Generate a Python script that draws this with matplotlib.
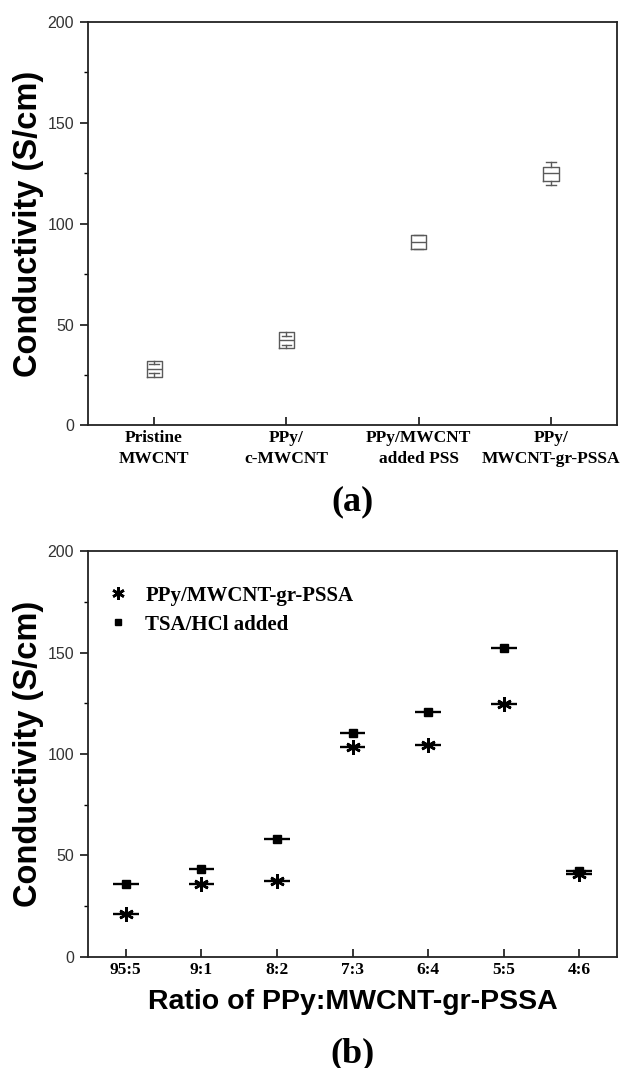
import numpy as np
import matplotlib
matplotlib.use("Agg")
import matplotlib.pyplot as plt
from matplotlib.ticker import MultipleLocator

SERIF = "Liberation Serif"
SANS = "Liberation Sans"

# ---- data, panel (a): box statistics per sample ----
samples_a = ["Pristine\nMWCNT", "PPy/\nc-MWCNT", "PPy/MWCNT\nadded PSS", "PPy/\nMWCNT-gr-PSSA"]
box_q1 = [24.2, 38.2, 87.3, 121.2]
box_med = [28.1, 42.2, 90.7, 124.9]
box_q3 = [32.1, 46.2, 94.4, 128.2]
whisker_lo = [25.9, 39.7, 87.3, 119.0]
whisker_hi = [30.3, 44.5, 94.4, 130.5]

# ---- data, panel (b): conductivity vs ratio ----
ratios = ["95:5", "9:1", "8:2", "7:3", "6:4", "5:5", "4:6"]
pssa_cond = [21.2, 35.7, 37.4, 103.5, 104.2, 124.5, 40.6]
tsa_hcl_cond = [36.1, 43.2, 58.1, 110.2, 120.7, 152.1, 42.3]

yticks = [0, 50, 100, 150, 200]


def style_axes(ax):
    for sp in ax.spines.values():
        sp.set_linewidth(1.3)
        sp.set_color("#222222")
    ax.set_ylim(0, 200)
    ax.set_yticks(yticks)
    ax.yaxis.set_minor_locator(MultipleLocator(25))
    ax.tick_params(axis="y", which="major", direction="out", length=6, width=1.1,
                   pad=4, labelsize=11.5, labelcolor="#333333", right=False)
    ax.tick_params(axis="y", which="minor", direction="out", length=3, width=1.0, right=False)
    ax.tick_params(axis="x", which="major", direction="in", length=6, width=1.1, top=False)
    ax.tick_params(axis="x", which="minor", bottom=False, top=False)
    for lbl in ax.get_yticklabels():
        lbl.set_fontfamily(SANS)
    ax.set_ylabel("Conductivity (S/cm)", fontsize=23.5, fontweight="bold", family=SANS)
    ax.yaxis.set_label_coords(-0.083, 0.5)


fig = plt.figure(figsize=(6.21, 10.68), dpi=100)

# ---------------- panel (a) ----------------
ax1 = fig.add_axes([0.1417, 0.6016, 0.8519, 0.3781])
pos_a = np.arange(1, len(samples_a) + 1)
stats = []
for i in range(len(samples_a)):
    stats.append(dict(q1=box_q1[i], med=box_med[i], q3=box_q3[i],
                      whislo=whisker_lo[i], whishi=whisker_hi[i], fliers=[]))
gray = "#5a5a5a"
ax1.bxp(stats, positions=pos_a, widths=0.115, showfliers=False,
        boxprops=dict(color=gray, linewidth=1.0),
        medianprops=dict(color=gray, linewidth=1.0),
        whiskerprops=dict(color=gray, linewidth=1.0),
        capprops=dict(color=gray, linewidth=1.0),
        capwidths=0.07)
ax1.set_xlim(0.5, len(samples_a) + 0.5)
ax1.set_xticks(pos_a)
ax1.set_xticklabels(samples_a, family=SERIF, fontweight="bold", fontsize=12.5)
for lbl in ax1.get_xticklabels():
    lbl.set_linespacing(1.45)
ax1.tick_params(axis="x", pad=3)
style_axes(ax1)

# ---------------- panel (b) ----------------
ax2 = fig.add_axes([0.1417, 0.1042, 0.8519, 0.3796])
pos_b = np.arange(1, len(ratios) + 1)
bar_half = 0.17
ax2.errorbar(pos_b, pssa_cond, xerr=bar_half, fmt="none", ecolor="black",
             elinewidth=1.7, capsize=0)
ax2.errorbar(pos_b, tsa_hcl_cond, xerr=bar_half, fmt="none", ecolor="black",
             elinewidth=1.7, capsize=0)
ax2.plot(pos_b, pssa_cond, linestyle="none", marker=(6, 2, 0), markersize=10.5,
         markeredgewidth=1.9, color="black", label="PPy/MWCNT-gr-PSSA")
ax2.plot(pos_b, tsa_hcl_cond, linestyle="none", marker="s", markersize=5.5,
         color="black", label="TSA/HCl added")
ax2.set_xlim(0.5, len(ratios) + 0.5)
ax2.set_xticks(pos_b)
ax2.set_xticklabels(ratios, family=SERIF, fontweight="bold", fontsize=12.5)
ax2.tick_params(axis="x", pad=4)
ax2.set_xlabel("Ratio of PPy:MWCNT-gr-PSSA", fontsize=20.5, fontweight="bold",
               family=SANS, labelpad=8)
style_axes(ax2)
leg = ax2.legend(loc="upper left", bbox_to_anchor=(0.0376, 0.915), frameon=False,
                 borderpad=0, borderaxespad=0, handlelength=1.0, handletextpad=0.8,
                 labelspacing=0.42, markerscale=0.85,
                 prop=dict(family=SERIF, weight="bold", size=15))

# captions
fig.text(0.5676, 1 - 501.5 / 1068, "(a)", ha="center", va="center",
         family=SERIF, fontweight="bold", fontsize=26)
fig.text(0.5676, 1 - 1053.5 / 1068, "(b)", ha="center", va="center",
         family=SERIF, fontweight="bold", fontsize=26)

fig.savefig("out.png", dpi=100)
